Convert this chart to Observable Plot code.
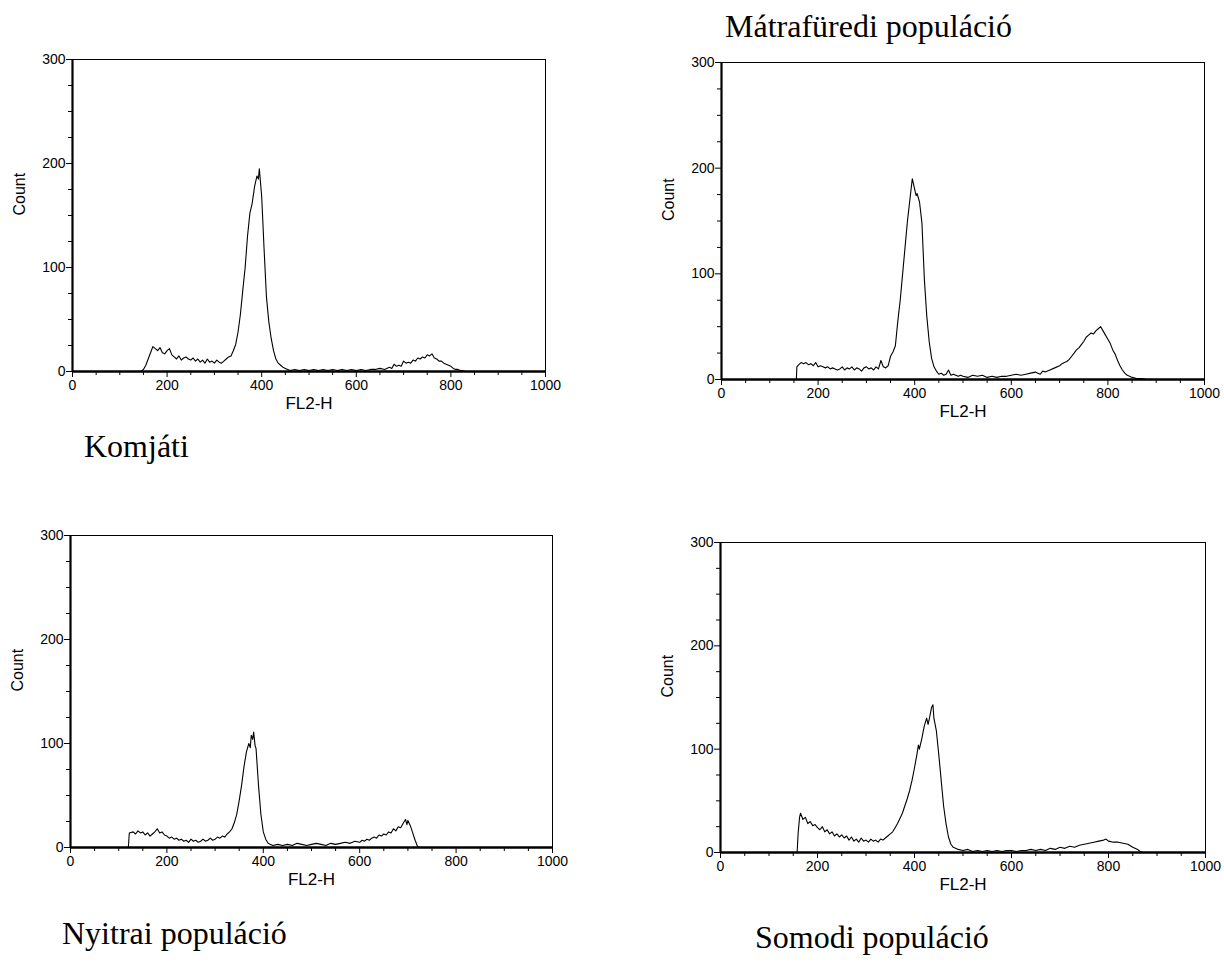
<!DOCTYPE html>
<html>
<head>
<meta charset="utf-8">
<script src="https://cdn.jsdelivr.net/npm/d3@7"></script>
<script src="https://cdn.jsdelivr.net/npm/@observablehq/plot@0.6"></script>
<style>
  html, body { margin: 0; padding: 0; background: #fff; }
  #page { position: relative; width: 1224px; height: 962px; overflow: hidden; background: #fff; }
  #page svg { font-family: "Liberation Sans", Arial, sans-serif !important; font-size: 14px !important; }
  .ttl { position: absolute; font-family: "Liberation Serif", "Times New Roman", serif; font-size: 32px; line-height: 1; color: #000; white-space: nowrap; }
</style>
</head>
<body>
<div id="page"></div>
<script>
// ---- data: [FL2-H channel, count] ----
const xMajorTicks = [0, 200, 400, 600, 800, 1000];
const xMinorTicks = [50, 100, 150, 250, 300, 350, 450, 500, 550, 650, 700, 750, 850, 900, 950];
const yMajorTicks = [0, 100, 200, 300];
const yMinorTicks = [25, 50, 75, 125, 150, 175, 225, 250, 275];

const panelTitles = ["Komjáti", "Mátrafüredi populáció", "Nyitrai populáció", "Somodi populáció"];
const xAxisLabel = "FL2-H";
const yAxisLabel = "Count";

const komjati = [[0,0],[145,0],[150,2],[155,6],[160,12],[165,18],[170,24],[175,22],[180,20],[185,23],[190,18],[195,17],[200,20],[205,22],[210,16],[215,14],[220,12],[225,15],[230,11],[235,13],[240,14],[245,12],[250,11],[255,13],[260,10],[265,12],[270,9],[275,11],[280,8],[285,12],[290,9],[295,10],[300,8],[305,11],[310,9],[315,8],[320,10],[325,12],[330,14],[335,15],[340,20],[345,26],[350,38],[355,55],[360,78],[365,100],[370,130],[375,152],[380,162],[385,178],[390,188],[393,185],[395,195],[400,168],[405,118],[410,72],[415,48],[420,32],[425,20],[430,12],[435,8],[440,6],[445,4],[450,3],[455,2],[460,1],[470,2],[480,1],[490,2],[500,1],[510,2],[520,1],[530,2],[540,1],[550,2],[560,1],[570,2],[580,1],[590,2],[600,1],[610,2],[620,1],[630,2],[640,2],[650,3],[660,2],[670,4],[675,3],[680,7],[685,5],[690,6],[695,5],[700,10],[705,8],[710,9],[715,8],[720,11],[725,10],[730,13],[735,12],[740,14],[745,13],[750,16],[755,15],[760,17],[765,13],[770,12],[775,10],[780,10],[785,8],[790,7],[795,6],[800,5],[805,3],[810,2],[815,2],[820,1],[825,1],[830,0],[1000,0]];

const matrafuredi = [[0,0],[155,0],[156,12],[160,14],[165,16],[170,15],[175,16],[180,14],[185,15],[190,13],[195,16],[200,12],[205,13],[210,12],[215,11],[220,12],[225,10],[230,11],[235,10],[240,9],[245,10],[250,12],[255,9],[260,11],[265,10],[270,12],[275,9],[280,11],[285,10],[290,8],[295,11],[300,12],[305,10],[310,11],[315,9],[320,12],[325,10],[330,18],[335,12],[340,11],[345,13],[350,22],[355,26],[360,32],[365,55],[370,75],[375,100],[380,125],[385,150],[390,170],[395,190],[400,180],[403,174],[405,176],[410,168],[415,148],[420,95],[425,60],[430,36],[435,20],[440,12],[445,8],[450,5],[455,6],[460,4],[465,5],[470,9],[475,4],[480,5],[485,4],[490,3],[495,4],[500,3],[510,2],[520,4],[530,3],[540,4],[550,2],[560,3],[570,2],[580,3],[590,3],[600,4],[610,5],[620,4],[630,5],[640,6],[650,7],[655,6],[660,5],[665,8],[670,7],[680,9],[690,11],[700,13],[705,15],[710,16],[715,17],[720,19],[725,22],[730,25],[735,28],[740,30],[745,33],[750,36],[755,40],[760,42],[765,44],[770,43],[775,46],[780,48],[785,50],[790,46],[795,42],[800,38],[805,34],[810,28],[815,24],[820,18],[825,13],[830,9],[835,6],[840,4],[845,3],[850,2],[860,1],[870,1],[880,0],[1000,0]];

const nyitrai = [[0,0],[120,0],[122,14],[130,15],[135,13],[140,16],[145,14],[150,15],[155,12],[160,14],[165,11],[170,13],[175,15],[180,18],[185,14],[190,15],[195,12],[200,11],[205,9],[210,10],[215,8],[220,9],[225,7],[230,8],[235,6],[240,7],[245,5],[250,8],[255,6],[260,7],[265,5],[270,6],[275,8],[280,6],[285,7],[290,9],[295,7],[300,8],[305,10],[310,9],[315,11],[320,10],[325,13],[330,15],[335,18],[340,24],[345,32],[350,45],[355,60],[360,78],[365,92],[370,100],[373,96],[375,108],[378,104],[380,111],[383,98],[385,95],[390,60],[395,32],[400,15],[405,8],[410,4],[415,3],[420,2],[430,3],[440,2],[450,3],[460,2],[470,4],[480,3],[490,2],[500,3],[510,4],[520,3],[530,2],[540,4],[550,3],[560,4],[570,5],[580,4],[590,6],[600,5],[605,7],[610,6],[615,8],[620,7],[625,9],[630,10],[635,9],[640,12],[645,11],[650,13],[655,12],[660,15],[665,14],[670,18],[675,16],[680,20],[685,19],[690,23],[695,27],[698,22],[700,26],[705,21],[710,14],[715,7],[720,1],[725,0],[1000,0]];

const somodi = [[0,0],[158,0],[160,18],[163,34],[165,38],[170,32],[175,34],[180,28],[185,30],[190,26],[195,27],[200,24],[205,22],[210,25],[215,20],[220,22],[225,18],[230,20],[235,16],[240,18],[245,15],[250,17],[255,14],[260,16],[265,12],[270,15],[275,11],[280,13],[285,10],[290,14],[295,11],[300,12],[305,10],[310,13],[315,11],[320,12],[325,10],[330,13],[335,12],[340,14],[345,16],[350,18],[355,20],[360,24],[365,28],[370,33],[375,38],[380,45],[385,52],[390,60],[395,70],[400,82],[405,95],[408,104],[410,100],[415,110],[420,122],[425,130],[428,124],[430,128],[435,140],[438,143],[440,130],[445,118],[450,95],[455,70],[460,45],[465,28],[470,15],[475,8],[480,5],[490,3],[500,2],[510,3],[520,1],[530,2],[540,1],[550,2],[560,1],[570,2],[580,1],[590,2],[600,2],[610,1],[620,2],[630,2],[640,3],[650,2],[660,3],[670,2],[680,4],[690,3],[700,5],[710,4],[720,6],[730,5],[740,7],[750,8],[760,9],[770,10],[780,11],[790,12],[795,13],[800,11],[810,10],[820,10],[830,9],[840,8],[850,5],[860,3],[865,1],[870,0],[1000,0]];

// ---- layout ----
const page = document.getElementById("page");
const panels = [
  {data: komjati,     frame: {x0: 72,  x1: 545,  y0: 59,  y1: 371}},
  {data: matrafuredi, frame: {x0: 721, x1: 1204, y0: 62,  y1: 379}},
  {data: nyitrai,     frame: {x0: 70,  x1: 552,  y0: 535, y1: 847}},
  {data: somodi,      frame: {x0: 720, x1: 1205, y0: 542, y1: 852}}
];
const titlePos = [
  {left: 84,  baseline: 457},
  {left: 725, baseline: 37},
  {left: 62,  baseline: 944},
  {left: 755, baseline: 948}
];

const mL = 72, mT = 20, mR = 30, mB = 50;
const fmt = d => String(d);

panels.forEach((p, i) => {
  const f = p.frame;
  const svg = Plot.plot({
    width: f.x1 - f.x0 + mL + mR,
    height: f.y1 - f.y0 + mT + mB,
    marginLeft: mL, marginRight: mR, marginTop: mT, marginBottom: mB,
    x: {domain: [0, 1000]},
    y: {domain: [0, 300]},
    style: {color: "#000", background: "transparent", overflow: "visible"},
    marks: [
      Plot.axisX({ticks: xMajorTicks, tickSize: 6, tickPadding: 3, tickFormat: fmt, label: null, fontSize: 14}),
      Plot.axisX({ticks: xMinorTicks, tickSize: 4, tickFormat: () => "", label: null}),
      Plot.axisY({ticks: yMajorTicks, tickSize: 6, tickPadding: 1, tickFormat: fmt, label: null, fontSize: 14}),
      Plot.axisY({ticks: yMinorTicks, tickSize: 4, tickFormat: () => "", label: null}),
      Plot.ruleX([1000], {stroke: "#000", strokeWidth: 1}),
      Plot.ruleY([300], {stroke: "#000", strokeWidth: 1}),
      Plot.line(p.data, {x: d => d[0], y: d => d[1], stroke: "#000", strokeWidth: 1.1}),
      Plot.ruleX([0], {stroke: "#000", strokeWidth: 2.2}),
      Plot.ruleY([0], {stroke: "#000", strokeWidth: 2.5}),
      Plot.text([yAxisLabel], {frameAnchor: "left", dx: -53, rotate: -90, fill: "#000", fontSize: 16}),
      Plot.text([xAxisLabel], {frameAnchor: "bottom", dy: 37, fill: "#000", fontSize: 17})
    ]
  });
  svg.style.position = "absolute";
  svg.style.left = (f.x0 - mL) + "px";
  svg.style.top = (f.y0 - mT) + "px";
  page.appendChild(svg);

  const t = document.createElement("div");
  t.className = "ttl";
  t.textContent = panelTitles[i];
  t.style.left = titlePos[i].left + "px";
  t.style.top = (titlePos[i].baseline - 27) + "px";
  page.appendChild(t);
});
</script>
</body>
</html>
